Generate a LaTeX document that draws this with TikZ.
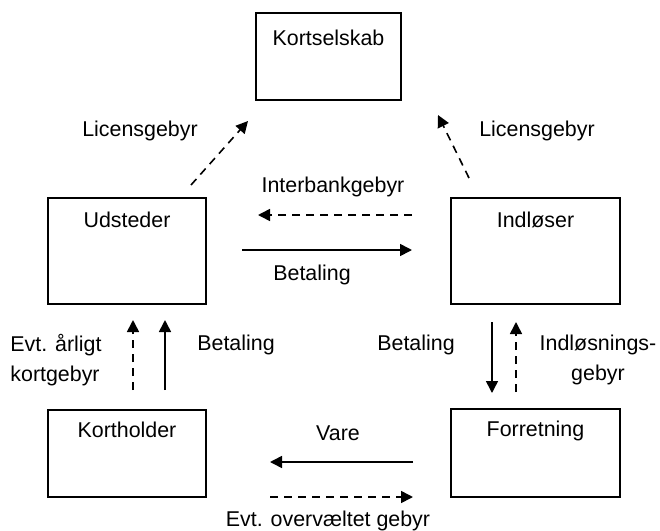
\documentclass[tikz,border=0pt]{standalone}
\usepackage{fontspec}
\setmainfont{Liberation Sans}
\usetikzlibrary{
    positioning,           % Relative positioning
    arrows.meta            % Modern arrow tips
}

\tikzset{
    box/.style={draw, line width=1pt, inner sep=0pt},
    title/.style={inner sep=3pt},
    flow/.style={line width=0.8pt, -{Triangle[length=6pt,width=6pt]}},
    fee/.style={flow, dash pattern=on 4pt off 3pt},
}

\begin{document}
\begin{tikzpicture}[x=0.5pt,y=-0.5pt,font=\fontsize{10.7}{15}\selectfont]
    \useasboundingbox (0,0) rectangle (660,531);
    % boxes
    \node[box, minimum width=72.5pt, minimum height=43.5pt] (ks) at (328.5,56.5) {};
    \node[box, minimum width=79pt, minimum height=53pt] (uds) at (127,251) {};
    \node[box, minimum width=84.5pt, minimum height=53pt] (ind) at (535.5,251) {};
    \node[box, minimum width=79pt, minimum height=43.5pt] (kh) at (127,453.5) {};
    \node[box, minimum width=84.5pt, minimum height=44pt] (forr) at (535.5,453) {};
    \node[title, below=6pt of ks.north, anchor=north] (ksT) {Kortselskab};
    \node[title, below=4.5pt of uds.north, anchor=north] (udsT) {Udsteder};
    \node[title, below=4.5pt of ind.north, anchor=north] (indT) {Indløser};
    \node[title, below=3.5pt of kh.north, anchor=north] (khT) {Kortholder};
    \node[title, below=3.5pt of forr.north, anchor=north] (forrT) {Forretning};

    % arrow ends
    \coordinate (licL1) at (191,185);   \coordinate (licL2) at (248,121);
    \coordinate (licR1) at (469,178);   \coordinate (licR2) at (438,115);
    \coordinate (ibg1) at (412,215);    \coordinate (ibg2) at (258,215);
    \coordinate (bet1) at (242,250);    \coordinate (bet2) at (412,250);
    \coordinate (aar1) at (133,390);    \coordinate (aar2) at (133,320);
    \coordinate (betL1) at (165,390);   \coordinate (betL2) at (165,320);
    \coordinate (betR1) at (492,322);   \coordinate (betR2) at (492,393);
    \coordinate (igb1) at (516,392);    \coordinate (igb2) at (516,322);
    \coordinate (var1) at (413,462);    \coordinate (var2) at (270,462);
    \coordinate (ovg1) at (270,497);    \coordinate (ovg2) at (413,497);

    \draw[fee] (licL1) -- (licL2);
    \draw[fee] (licR1) -- (licR2);
    \draw[fee] (ibg1) -- (ibg2);
    \draw[flow] (bet1) -- (bet2);
    \draw[fee] (aar1) -- (aar2);
    \draw[flow] (betL1) -- (betL2);
    \draw[flow] (betR1) -- (betR2);
    \draw[fee] (igb1) -- (igb2);
    \draw[flow] (var1) -- (var2);
    \draw[fee] (ovg1) -- (ovg2);

    % labels
    \node (licLT) at (140,131) {Licensgebyr};
    \node (licRT) at (537,131) {Licensgebyr};
    \node (ibgT) at (333,187) {Interbankgebyr};
    \node (betT) at (312,275) {Betaling};
    \node[align=left] (aarT) at (56,360) {Evt. årligt\\kortgebyr};
    \node (betLT) at (236,345) {Betaling};
    \node (betRT) at (416,345) {Betaling};
    \node[align=center] (igbT) at (598,360) {Indløsnings-\\gebyr};
    \node (varT) at (338,433) {Vare};
    \node (ovgT) at (328,521) {Evt. overvæltet gebyr};
\end{tikzpicture}
\end{document}
